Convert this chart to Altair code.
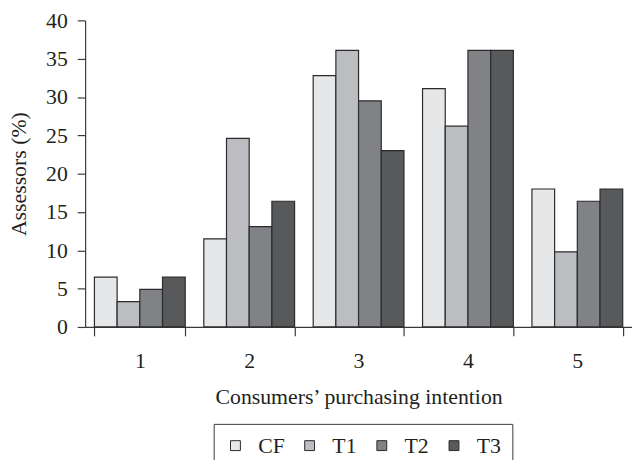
import altair as alt
import pandas as pd

categories = ["1", "2", "3", "4", "5"]
series = ["CF", "T1", "T2", "T3"]
cf = [6.5, 11.5, 32.8, 31.1, 18.0]
t1 = [3.3, 24.6, 36.1, 26.2, 9.8]
t2 = [4.9, 13.1, 29.5, 36.1, 16.4]
t3 = [6.5, 16.4, 23.0, 36.1, 18.0]
colors = ["#e6e7e8", "#bcbdc0", "#808285", "#58595b"]

rows = []
for s, vals in zip(series, [cf, t1, t2, t3]):
    for c, v in zip(categories, vals):
        rows.append({"intention": c, "group": s, "value": v})
df = pd.DataFrame(rows)

font = "Liberation Serif"
text_color = "#231f20"
axis_color = "#3a3a3a"
fs = 22

chart = alt.Chart(df).mark_bar(stroke="#2b2b2b", strokeWidth=1.2).encode(
    x=alt.X(
        "intention:N",
        sort=categories,
        scale=alt.Scale(paddingInner=0.17, paddingOuter=0.085),
        axis=alt.Axis(
            title="Consumers’ purchasing intention",
            labelAngle=0,
            tickBand="extent",
            tickSize=9,
            labelPadding=15,
            titlePadding=15,
        ),
    ),
    xOffset=alt.XOffset("group:N", sort=series, scale=alt.Scale(paddingInner=0, paddingOuter=0)),
    y=alt.Y(
        "value:Q",
        scale=alt.Scale(domain=[0, 40], nice=False),
        axis=alt.Axis(
            title="Assessors (%)",
            values=list(range(0, 41, 5)),
            tickSize=8,
            labelPadding=10,
            titlePadding=15,
            grid=False,
        ),
    ),
    color=alt.Color(
        "group:N",
        sort=series,
        scale=alt.Scale(domain=series, range=colors),
        legend=alt.Legend(
            title=None,
            orient="none",
            direction="horizontal",
            legendX=130,
            legendY=408,
            symbolType="square",
            symbolSize=100,
            symbolStrokeColor="#2b2b2b",
            symbolStrokeWidth=1,
            symbolOpacity=1,
            labelFont=font,
            labelFontSize=fs,
            labelColor=text_color,
            labelOffset=12,
            columnPadding=14,
            padding=11,
            strokeColor="#3a3a3a",
        ),
    ),
).properties(
    width=553,
    height=310,
    autosize=alt.AutoSizeParams(type="none"),
    padding={"left": 78, "top": 10, "right": 0, "bottom": 132},
).configure_view(
    stroke=None
).configure_axis(
    labelFont=font,
    titleFont=font,
    labelFontSize=fs,
    titleFontSize=fs,
    titleFontWeight="normal",
    labelColor=text_color,
    titleColor=text_color,
    domainColor=axis_color,
    tickColor=axis_color,
    domainWidth=1.2,
    tickWidth=1.2,
)

chart.save("out.html", embed_options={"renderer": "svg", "actions": False})
